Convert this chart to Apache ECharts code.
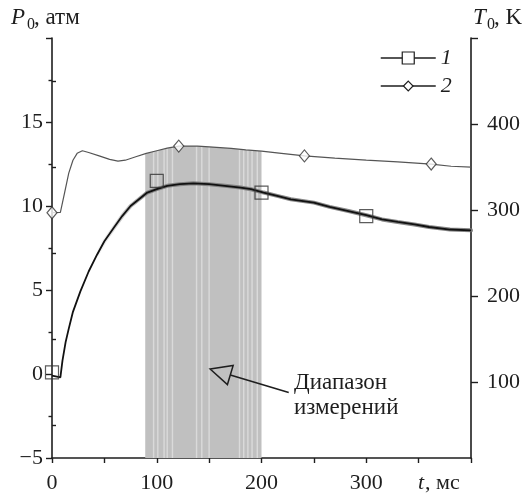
<!DOCTYPE html>
<html><head><meta charset="utf-8">
<script src="https://cdn.jsdelivr.net/npm/echarts@6/dist/echarts.min.js"></script>
<style>html,body{margin:0;padding:0;background:#fff}#c{width:526px;height:495px}</style>
</head><body><div id="c"></div>
<script>
// ---- data ----
// curve 1: pressure P0 (atm), left axis
const pTimes  = [0, 8, 10, 13, 16, 20, 27, 35, 43, 50, 59, 67, 75, 83, 91, 100, 110, 122, 135, 150, 165, 180, 190, 202, 215, 228, 250, 265, 283, 300, 315, 330, 346, 360, 380, 400];
const pValues = [-0.1, -0.2, 0.8, 1.9, 2.7, 3.7, 4.9, 6.1, 7.1, 7.9, 8.7, 9.4, 10.0, 10.4, 10.8, 11.0, 11.2, 11.3, 11.35, 11.3, 11.2, 11.1, 11.0, 10.8, 10.6, 10.4, 10.2, 9.95, 9.7, 9.45, 9.2, 9.05, 8.9, 8.75, 8.6, 8.55];
// curve 2: temperature T0 (K), right axis
const tTimes  = [0, 8, 12, 16, 20, 24, 29, 35, 45, 55, 63, 70, 80, 90, 100, 110, 121, 139, 150, 171, 185, 200, 219, 241, 270, 300, 330, 362, 381, 400];
const tValues = [297, 297.5, 320, 343, 358, 366, 369, 367, 363, 359, 357, 358, 362, 366, 369, 372, 374.4, 374.4, 373.5, 371.7, 370, 368.5, 366, 363, 360.5, 358, 356, 353.5, 351, 350];
// markers
const pMarkTimes = [0, 100, 200, 300];
const pMarkValues = [0.1, 11.5, 10.8, 9.4];
const tMarkTimes = [0, 121, 241, 362];
const tMarkValues = [297, 374.4, 363, 353.5];
// shaded measurement range (top follows curve 2)
const shadeTimes  = [89, 100, 110, 121, 139, 150, 171, 185, 200];
const shadeValues = [365.5, 369, 372, 374.4, 374.4, 373.5, 371.7, 370, 368.5];
// lighter stripes inside the shaded range
const stripeTimes = [97, 101, 107, 110, 115, 138, 143, 150, 179, 183, 187, 191, 196];
const stripeTops  = [368, 369, 371, 372, 373, 374.4, 374, 373.5, 371, 370.5, 370, 369.5, 369];
// axis ticks
const xTicks = [0, 100, 200, 300];
const pTicks = [-5, 0, 5, 10, 15];
const tMajorTicks = [100, 200, 300, 400, 500];
const tMinorTicks = [50, 150, 250, 350, 450];
const tLabelTicks = [100, 200, 300, 400];
// annotation arrow (data coords on P axis): tail -> tip
const arrowTail = [226, -1.1];
const arrowTip = [151, 0.3];
// the noisy band of curve 1 fades in from this time on
const bandFrom = 43;

const chart = echarts.init(document.getElementById('c'));
const serif = '"Liberation Serif", "Times New Roman", serif';
const ink = '#1e1e1e';
const axisLine = {show: true, onZero: false, lineStyle: {color: ink, width: 1.6}};
const lbl = {fontFamily: serif, fontSize: 22, color: ink};

const pData = pTimes.map((t, i) => [t, pValues[i]]);

const option = {
  animation: false,
  grid: {left: 52, right: 55, top: 38, bottom: 37, containLabel: false, outerBoundsMode: 'none'},
  xAxis: {
    type: 'value', min: 0, max: 400, interval: 50,
    axisLine: axisLine,
    axisTick: {show: true, length: 5, lineStyle: {color: ink, width: 1.4}},
    axisLabel: Object.assign({margin: 14, formatter: v => xTicks.includes(v) ? String(v) : ''}, lbl),
    splitLine: {show: false}
  },
  yAxis: [
    {
      type: 'value', min: -5, max: 20, interval: 5, position: 'left',
      axisLine: axisLine,
      axisTick: {show: true, length: 6, lineStyle: {color: ink, width: 1.4}},
      minorTick: {show: true, splitNumber: 2, length: 3.5, lineStyle: {color: ink, width: 1.4}},
      axisLabel: Object.assign({margin: 9, formatter: v => pTicks.includes(v) ? (v < 0 ? '\u2212' + (-v) : String(v)) : ''}, lbl),
      splitLine: {show: false}, minorSplitLine: {show: false}
    },
    {
      type: 'value', min: 12, max: 500, position: 'right',
      axisLine: axisLine,
      axisTick: {show: true, length: 7, customValues: tMajorTicks, lineStyle: {color: ink, width: 1.4}},
      axisLabel: Object.assign({margin: 16, customValues: tLabelTicks}, lbl),
      splitLine: {show: false}
    },
    {
      type: 'value', min: 12, max: 500, position: 'right',
      axisLine: {show: false},
      axisTick: {show: true, length: 4, customValues: tMinorTicks, lineStyle: {color: ink, width: 1.4}},
      axisLabel: {show: false},
      splitLine: {show: false}
    }
  ],
  legend: [
    {data: ['1'], left: 375, top: 42, itemWidth: 55, itemHeight: 15, itemGap: 0,
     itemStyle: {color: '#fff', borderColor: ink, borderWidth: 1.2},
     lineStyle: {color: ink, width: 1.5},
     textStyle: {fontFamily: serif, fontStyle: 'italic', fontSize: 22, color: ink}},
    {data: ['2'], left: 375, top: 70, itemWidth: 55, itemHeight: 12, itemGap: 0,
     itemStyle: {color: '#fff', borderColor: ink, borderWidth: 1.2},
     lineStyle: {color: ink, width: 1.5},
     textStyle: {fontFamily: serif, fontStyle: 'italic', fontSize: 22, color: ink}}
  ],
  series: [
    {name: 'shade', type: 'line', yAxisIndex: 1, z: 1, symbol: 'none', silent: true,
     data: shadeTimes.map((t, i) => [t, shadeValues[i]]),
     lineStyle: {width: 0}, areaStyle: {color: '#c0c0c0', opacity: 1, origin: 'start'}},
    {name: 'stripes', type: 'custom', yAxisIndex: 1, z: 2, silent: true,
     data: stripeTimes.map((t, i) => [t, stripeTops[i]]),
     renderItem: (params, api) => {
       const top = api.coord([api.value(0), api.value(1)]);
       const bot = api.coord([api.value(0), 12]);
       return {type: 'rect', shape: {x: top[0] - 0.7, y: top[1], width: 1.4, height: bot[1] - top[1]},
               style: {fill: '#dadada'}};
     }},
    {name: '2', type: 'line', yAxisIndex: 1, z: 3, symbol: 'diamond', showSymbol: false,
     data: tTimes.map((t, i) => [t, tValues[i]]),
     color: ink, lineStyle: {color: '#555', width: 1.2}},
    {name: 'p-band', type: 'line', z: 3, symbol: 'none',
     data: pData.filter(d => d[0] >= bandFrom),
     lineStyle: {width: 4, cap: 'round',
       color: new echarts.graphic.LinearGradient(0, 0, 1, 0, [
         {offset: 0, color: 'rgba(120,120,120,0)'},
         {offset: 0.15, color: 'rgba(120,120,120,0.85)'},
         {offset: 1, color: 'rgba(120,120,120,0.9)'}])}},
    {name: '1', type: 'line', z: 4, symbol: 'rect', showSymbol: false,
     data: pData,
     color: ink, lineStyle: {color: '#111', width: 1.8}},
    {name: '1m', type: 'scatter', z: 5, symbol: 'rect', symbolSize: 13,
     data: pMarkTimes.map((t, i) => [t, pMarkValues[i]]),
     itemStyle: {color: 'rgba(0,0,0,0)', borderColor: '#333', borderWidth: 1.2}},
    {name: '2m', type: 'scatter', yAxisIndex: 1, z: 5, symbol: 'diamond', symbolSize: [10, 12],
     data: tMarkTimes.map((t, i) => [t, tMarkValues[i]]),
     itemStyle: {color: '#fff', borderColor: '#333', borderWidth: 1.2}}
  ],
  graphic: [
    {type: 'text', id: 'pP', left: 11, top: 6, style: {text: 'P', font: 'italic 23px ' + serif, fill: ink}},
    {type: 'text', id: 'p0', left: 27, top: 17, style: {text: '0', font: '16px ' + serif, fill: ink}},
    {type: 'text', id: 'pU', left: 34, top: 6, style: {text: ', атм', font: '23px ' + serif, fill: ink}},
    {type: 'text', id: 'tT', left: 473, top: 6, style: {text: 'T', font: 'italic 23px ' + serif, fill: ink}},
    {type: 'text', id: 't0', left: 487, top: 17, style: {text: '0', font: '16px ' + serif, fill: ink}},
    {type: 'text', id: 'tU', left: 494, top: 6, style: {text: ', K', font: '23px ' + serif, fill: ink}},
    {type: 'text', id: 'xt', left: 418, top: 472, style: {text: 't', font: 'italic 22px ' + serif, fill: ink}},
    {type: 'text', id: 'xU', left: 425, top: 472, style: {text: ', мс', font: '22px ' + serif, fill: ink}},
    {type: 'text', id: 'ann', left: 294, top: 370, style: {text: 'Диапазон\nизмерений', font: '23px ' + serif, lineHeight: 25, fill: ink}}
  ]
};
chart.setOption(option);

// arrow with hollow head, placed through the axes
const tail = chart.convertToPixel({xAxisIndex: 0, yAxisIndex: 0}, arrowTail);
const tip = chart.convertToPixel({xAxisIndex: 0, yAxisIndex: 0}, arrowTip);
const dx = tip[0] - tail[0], dy = tip[1] - tail[1];
const len = Math.hypot(dx, dy), ux = dx / len, uy = dy / len;
const headL = 21, headW = 10;
const base = [tip[0] - ux * headL, tip[1] - uy * headL];
const p1 = [base[0] - uy * headW, base[1] + ux * headW];
const p2 = [base[0] + uy * headW, base[1] - ux * headW];
chart.setOption({graphic: [
  {type: 'line', id: 'arrLine', shape: {x1: tail[0], y1: tail[1], x2: base[0], y2: base[1]}, style: {stroke: ink, lineWidth: 1.6}, z: 10},
  {type: 'polygon', id: 'arrHead', shape: {points: [tip, p1, p2]}, style: {fill: 'none', stroke: ink, lineWidth: 1.5}, z: 10}
]});
</script>
</body></html>
